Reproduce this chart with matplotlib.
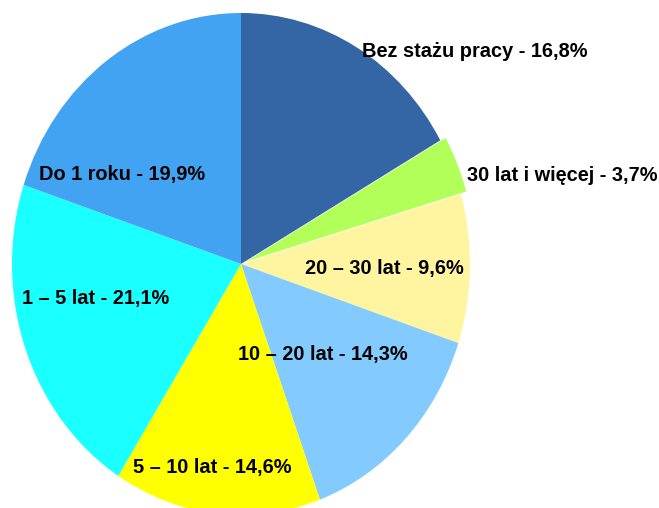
import matplotlib
matplotlib.use('Agg')
import matplotlib.pyplot as plt

# dane wykresu
kategorie = ['Bez stażu pracy', '30 lat i więcej', '20 – 30 lat', '10 – 20 lat',
             '5 – 10 lat', '1 – 5 lat', 'Do 1 roku']
procenty = [16.8, 3.7, 9.6, 14.3, 14.6, 21.1, 19.9]
kolory = ['#3465a4', '#b2ff5a', '#fff5a0', '#83caff', '#ffff00', '#1affff', '#43a3f3']
wysuniecie = [0, 0.025, 0, 0, 0, 0, 0]

# pozycje etykiet w pikselach (lewa krawedz, linia bazowa)
etykiety_xy = [(362, 57), (467, 181), (305, 274), (238, 360),
               (133, 473), (22, 304), (39, 180)]

W, H = 659, 508
cx, cy = 241, 264      # srodek kola
rx, ry = 229, 251      # kolo jest lekko rozciagniete w pionie

plt.rcParams['font.family'] = ['Liberation Sans', 'DejaVu Sans']

fig = plt.figure(figsize=(W / 100, H / 100), dpi=100)
ax = fig.add_axes([0, 0, 1, 1])
ax.pie(procenty, colors=kolory, startangle=90, counterclock=False,
       explode=wysuniecie, radius=1, center=(0, 0),
       wedgeprops=dict(linewidth=0))
ax.set_aspect('auto')
ax.set_xlim(-cx / rx, (W - cx) / rx)
ax.set_ylim(-(H - cy) / ry, cy / ry)
ax.axis('off')

for nazwa, p, (px, py) in zip(kategorie, procenty, etykiety_xy):
    tekst = f'{nazwa} - {p:.1f}%'.replace('.', ',')
    ax.text((px - cx) / rx, (cy - py) / ry, tekst, fontsize=14.4, fontweight='bold',
            ha='left', va='baseline', color='black')

fig.savefig('out.png', dpi=100, facecolor='white')
